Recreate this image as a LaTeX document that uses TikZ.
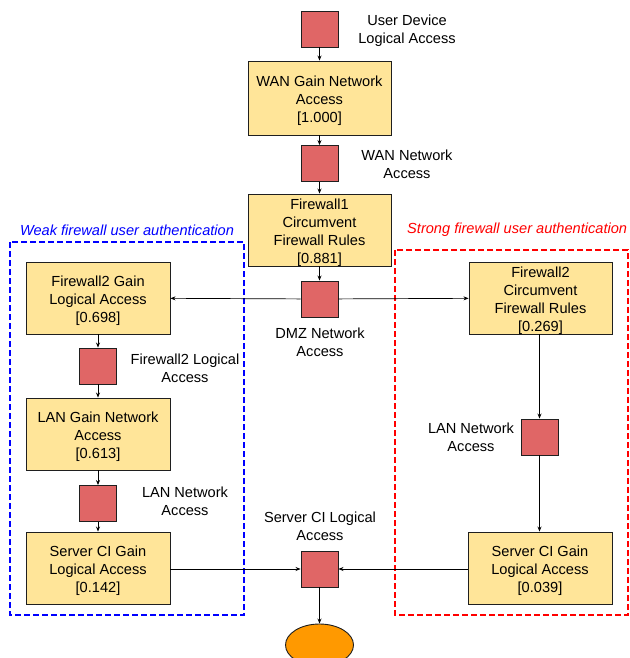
\documentclass[tikz,border=0pt]{standalone}
\usepackage{fontspec}
\setmainfont{Liberation Sans}
\usetikzlibrary{arrows.meta,shapes.geometric}
\definecolor{boxfill}{HTML}{FFE599}
\definecolor{sqfill}{HTML}{E06666}
\definecolor{ellfill}{HTML}{FF9900}
\definecolor{edgecol}{HTML}{1F1F1F}
\newcommand{\boxtxt}[1]{\raisebox{-3pt}[\height][\depth]{\begin{tabular}{@{}c@{}}#1\end{tabular}}}
\begin{document}
\begin{tikzpicture}[x=1pt,y=-1pt,
  every node/.style={font=\fontsize{14.6}{18}\selectfont, inner sep=0pt, align=center},
  gbox/.style={draw=edgecol, line width=0.9pt, fill=boxfill, minimum width=143pt, minimum height=72pt},
  sq/.style={draw=edgecol, line width=0.9pt, fill=sqfill, minimum width=37pt, minimum height=36pt},
  lbl/.style={text=black},
  conn/.style={draw=black, line width=0.7pt, -{Stealth[length=5pt,width=4pt]}},
  region/.style={line width=1.4pt, dash pattern=on 6pt off 3pt}]
\clip (0,0) rectangle (629,658);
\useasboundingbox (0,0) rectangle (629,658);
% regions
\draw[region, draw=blue] (10,242) rectangle (244,615);
\draw[region, draw=red] (395,250) rectangle (628,615);
\node[text=blue, font=\fontsize{14.6}{18}\selectfont\itshape] (weak) at (127,230) {Weak firewall user authentication};
\node[text=red, font=\fontsize{14.6}{18}\selectfont\itshape, anchor=west] (strong) at (407,230) {Strong firewall user authentication};
% squares
\node[sq] (udla) at (319.5,29) {};
\node[lbl] (udlal) at (407,30.5) {User Device\\Logical Access};
\node[gbox, minimum height=74pt] (wan) at (319.5,98) {\boxtxt{WAN Gain Network\\Access\\{[1.000]}}};
\node[sq] (wanna) at (319.5,163.5) {};
\node[lbl] (wannal) at (407,164) {WAN Network\\Access};
\node[gbox] (fw1) at (319.5,230) {\boxtxt{Firewall1\\Circumvent\\Firewall Rules\\{[0.881]}}};
\node[sq] (dmz) at (319.5,299) {};
\node[lbl] (dmzl) at (320,342) {DMZ Network\\Access};
\node[gbox, minimum width=144pt] (fw2g) at (98,298) {\boxtxt{Firewall2 Gain\\Logical Access\\{[0.698]}}};
\node[gbox] (fw2c) at (540.5,298) {\boxtxt{Firewall2\\Circumvent\\Firewall Rules\\{[0.269]}}};
\node[sq] (fw2la) at (98,366) {};
\node[lbl] (fw2lal) at (185,368) {Firewall2 Logical\\Access};
\node[gbox, minimum width=144pt] (lang) at (98,434) {\boxtxt{LAN Gain Network\\Access\\{[0.613]}}};
\node[sq] (lanl) at (98,503.5) {};
\node[lbl] (lanll) at (185,501) {LAN Network\\Access};
\node[gbox, minimum width=144pt] (srvl) at (98,568) {\boxtxt{Server CI Gain\\Logical Access\\{[0.142]}}};
\node[sq] (lanr) at (539.5,437) {};
\node[lbl] (lanrl) at (471,437) {LAN Network\\Access};
\node[gbox, minimum width=144pt] (srvr) at (540,568) {\boxtxt{Server CI Gain\\Logical Access\\{[0.039]}}};
\node[sq] (srv) at (319.5,569) {};
\node[lbl] (srvlbl) at (320,526) {Server CI Logical\\Access};
\node[draw=edgecol, line width=0.9pt, fill=ellfill, ellipse, minimum width=68pt, minimum height=42pt] (goal) at (319.5,645) {};
% connectors
\draw[conn] (udla) -- (wan);
\draw[conn] (wan) -- (wanna);
\draw[conn] (wanna) -- (fw1);
\draw[conn] (fw1) -- (dmz);
\draw[conn] (dmz) -- (fw2g);
\draw[conn] (dmz) -- (fw2c);
\draw[conn] (fw2g) -- (fw2la);
\draw[conn] (fw2la) -- (lang);
\draw[conn] (lang) -- (lanl);
\draw[conn] (lanl) -- (srvl);
\draw[conn] (fw2c.south -| lanr) -- (lanr);
\draw[conn] (lanr) -- (lanr |- srvr.north);
\draw[conn] (srvl.east |- srv) -- (srv);
\draw[conn] (srvr.west |- srv) -- (srv);
\draw[conn] (srv) -- (goal);
\end{tikzpicture}
\end{document}
